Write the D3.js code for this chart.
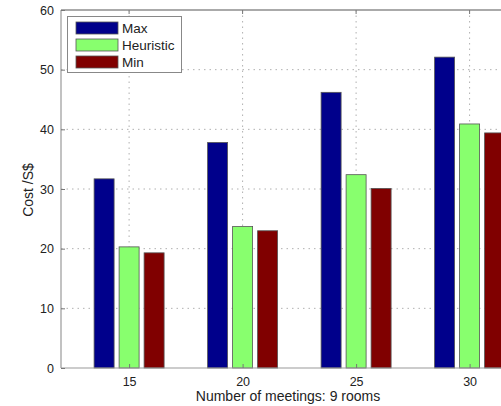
<!DOCTYPE html>
<html><head><meta charset="utf-8">
<script src="https://cdn.jsdelivr.net/npm/d3@7"></script>
<style>body{margin:0;background:#fff;} svg{display:block;} text{font-family:"Liberation Sans",Arial,sans-serif;}</style>
</head><body>
<svg id="c" width="501" height="406"></svg>
<script>
const categories = [15, 20, 25, 30];
const seriesNames = ["Max", "Heuristic", "Min"];
const maxVals = [31.7, 37.8, 46.2, 52.1];
const heuristicVals = [20.3, 23.7, 32.4, 40.9];
const minVals = [19.3, 23.0, 30.1, 39.4];
const yTicks = [0, 10, 20, 30, 40, 50, 60];
const colors = ["#00008b", "#88ff6e", "#800000"];
const series = [maxVals, heuristicVals, minVals];

(function () {
const svg = d3.select("#c");
const pL = 61, pT = 10, pB = 368;
const x = d3.scaleLinear().domain([12, 33]).range([pL, pL + 21 * 22.7]);
const y = d3.scaleLinear().domain([0, 60]).range([pB, pT]);
const pR = x.range()[1];

// grid
const grid = svg.append("g");
grid.selectAll("line.h").data(yTicks.filter(d => d > 0 && d < 60)).join("line")
  .attr("x1", pL).attr("x2", pR).attr("y1", d => y(d)).attr("y2", d => y(d))
  .attr("stroke", "#b0b0b0").attr("stroke-width", 1).attr("stroke-dasharray", "1.5,4");
grid.selectAll("line.v").data(categories).join("line")
  .attr("x1", d => x(d)).attr("x2", d => x(d)).attr("y1", pT).attr("y2", pB)
  .attr("stroke", "#b0b0b0").attr("stroke-width", 1).attr("stroke-dasharray", "1.5,4");

// bars
const off = 25 / 22.7, bw = 20 / 22.7;
series.forEach((vals, i) => {
  svg.append("g").selectAll("rect").data(vals).join("rect")
    .attr("x", (d, j) => x(categories[j] + (i - 1) * off - bw / 2))
    .attr("width", x(bw) - x(0))
    .attr("y", d => y(d)).attr("height", d => y(0) - y(d))
    .attr("fill", colors[i]).attr("stroke", "#555").attr("stroke-width", 0.8);
});

// axes
const axG = svg.append("g").attr("stroke", "#999").attr("stroke-width", 1.2);
axG.append("line").attr("x1", pL).attr("x2", pR).attr("y1", pT).attr("y2", pT).attr("stroke-width", 2).attr("stroke", "#aaa");
axG.append("line").attr("x1", pL).attr("x2", pR).attr("y1", pB).attr("y2", pB);
axG.append("line").attr("x1", pL).attr("x2", pL).attr("y1", pT).attr("y2", pB);

const yAxis = d3.axisLeft(y).tickValues(yTicks).tickSize(-4).tickPadding(7);
const ya = svg.append("g").attr("transform", `translate(${pL},0)`).call(yAxis);
ya.select(".domain").remove();
ya.selectAll("line").attr("stroke", "#777");
ya.selectAll("text").attr("font-size", 12.5).attr("fill", "#222");

const xAxis = d3.axisBottom(x).tickValues(categories).tickSize(-4).tickPadding(9);
const xa = svg.append("g").attr("transform", `translate(0,${pB})`).call(xAxis);
xa.select(".domain").remove();
xa.selectAll("line").attr("stroke", "#777");
xa.selectAll("text").attr("font-size", 12.5).attr("fill", "#222");

// top ticks
svg.append("g").selectAll("line").data(categories).join("line")
  .attr("x1", d => x(d)).attr("x2", d => x(d)).attr("y1", pT).attr("y2", pT + 4)
  .attr("stroke", "#777");

// labels
svg.append("text").attr("x", 288).attr("y", 401).attr("text-anchor", "middle")
  .attr("font-size", 14).attr("fill", "#222").text("Number of meetings: 9 rooms");
svg.append("text").attr("transform", "translate(33,190) rotate(-90)").attr("text-anchor", "middle")
  .attr("font-size", 14).attr("fill", "#222").text("Cost /S$");

// legend
const lg = svg.append("g");
lg.append("rect").attr("x", 67.5).attr("y", 16.5).attr("width", 114).attr("height", 56)
  .attr("fill", "#fff").attr("stroke", "#888").attr("stroke-width", 1);
seriesNames.forEach((n, i) => {
  lg.append("rect").attr("x", 76).attr("y", 22 + i * 17).attr("width", 42).attr("height", 12)
    .attr("fill", colors[i]).attr("stroke", "#555").attr("stroke-width", 0.8);
  lg.append("text").attr("x", 122).attr("y", 32.5 + i * 17).attr("font-size", 13.5).attr("fill", "#222").text(n);
});
})();
</script>
</body></html>
